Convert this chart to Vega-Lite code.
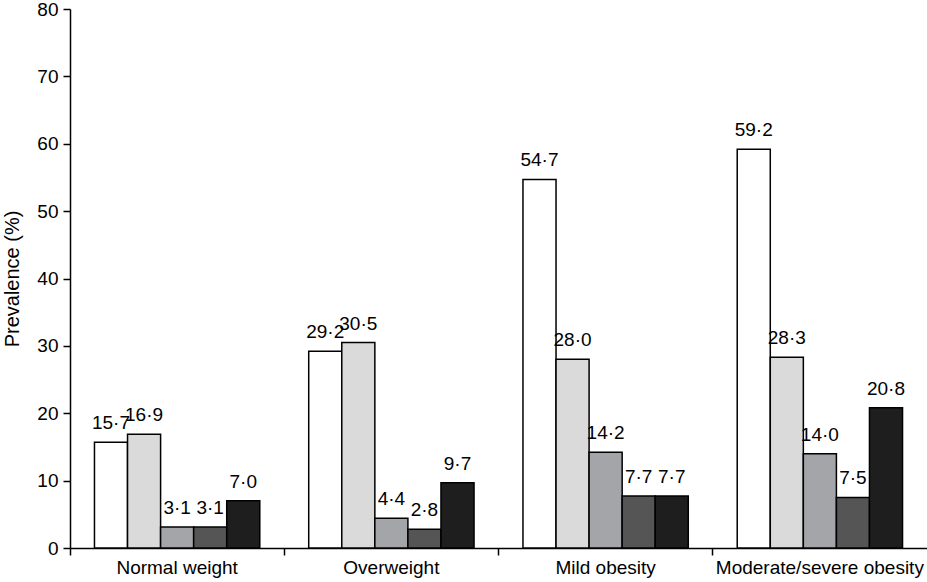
{
  "$schema": "https://vega.github.io/schema/vega-lite/v6.json",
  "width": 857,
  "height": 539,
  "autosize": {"type": "none"},
  "padding": {"left": 70, "top": 9, "right": 0, "bottom": 34},
  "background": "white",
  "data": {
    "values": [
      {"group": "Normal weight", "series": "S1", "value": 15.7},
      {"group": "Normal weight", "series": "S2", "value": 16.9},
      {"group": "Normal weight", "series": "S3", "value": 3.1},
      {"group": "Normal weight", "series": "S4", "value": 3.1},
      {"group": "Normal weight", "series": "S5", "value": 7.0},
      {"group": "Overweight", "series": "S1", "value": 29.2},
      {"group": "Overweight", "series": "S2", "value": 30.5},
      {"group": "Overweight", "series": "S3", "value": 4.4},
      {"group": "Overweight", "series": "S4", "value": 2.8},
      {"group": "Overweight", "series": "S5", "value": 9.7},
      {"group": "Mild obesity", "series": "S1", "value": 54.7},
      {"group": "Mild obesity", "series": "S2", "value": 28.0},
      {"group": "Mild obesity", "series": "S3", "value": 14.2},
      {"group": "Mild obesity", "series": "S4", "value": 7.7},
      {"group": "Mild obesity", "series": "S5", "value": 7.7},
      {"group": "Moderate/severe obesity", "series": "S1", "value": 59.2},
      {"group": "Moderate/severe obesity", "series": "S2", "value": 28.3},
      {"group": "Moderate/severe obesity", "series": "S3", "value": 14.0},
      {"group": "Moderate/severe obesity", "series": "S4", "value": 7.5},
      {"group": "Moderate/severe obesity", "series": "S5", "value": 20.8}
    ]
  },
  "encoding": {
    "x": {
      "field": "group",
      "type": "nominal",
      "sort": null,
      "title": null,
      "scale": {"paddingInner": 0, "paddingOuter": 0},
      "axis": {
        "labelAngle": 0,
        "labelFontSize": 19,
        "labelColor": "black",
        "labelFont": "Liberation Sans",
        "labelLimit": 0,
        "domainColor": "black",
        "domainWidth": 1.5,
        "tickColor": "black",
        "tickWidth": 1.5,
        "tickSize": 7,
        "bandPosition": 0,
        "labelPadding": 3
      }
    },
    "xOffset": {
      "field": "series",
      "type": "nominal",
      "sort": null,
      "scale": {"paddingInner": 0, "paddingOuter": 0.74}
    },
    "y": {
      "field": "value",
      "type": "quantitative",
      "title": "Prevalence (%)",
      "scale": {"domain": [0, 80], "nice": false},
      "axis": {
        "values": [0, 10, 20, 30, 40, 50, 60, 70, 80],
        "grid": false,
        "labelFontSize": 19,
        "labelColor": "black",
        "labelFont": "Liberation Sans",
        "labelPadding": 5,
        "domainColor": "black",
        "domainWidth": 1.5,
        "tickColor": "black",
        "tickWidth": 1.5,
        "tickSize": 7,
        "titleFont": "Liberation Sans",
        "titleFontSize": 20,
        "titleFontWeight": "normal",
        "titleColor": "black",
        "titlePadding": 14
      }
    }
  },
  "layer": [
    {
      "mark": {"type": "bar", "stroke": "black", "strokeWidth": 1.5},
      "encoding": {
        "fill": {
          "field": "series",
          "type": "nominal",
          "legend": null,
          "scale": {
            "domain": ["S1", "S2", "S3", "S4", "S5"],
            "range": ["#ffffff", "#dadada", "#a3a5a8", "#555555", "#1e1e1e"]
          }
        }
      }
    },
    {
      "mark": {"type": "text", "baseline": "alphabetic", "dy": -13, "fontSize": 19, "font": "Liberation Sans", "color": "black"},
      "encoding": {
        "text": {"field": "value", "type": "quantitative", "format": ".1f"}
      }
    }
  ],
  "config": {
    "view": {"stroke": null},
    "locale": {"number": {"decimal": "·", "thousands": ",", "grouping": [3], "currency": ["", ""]}}
  }
}
